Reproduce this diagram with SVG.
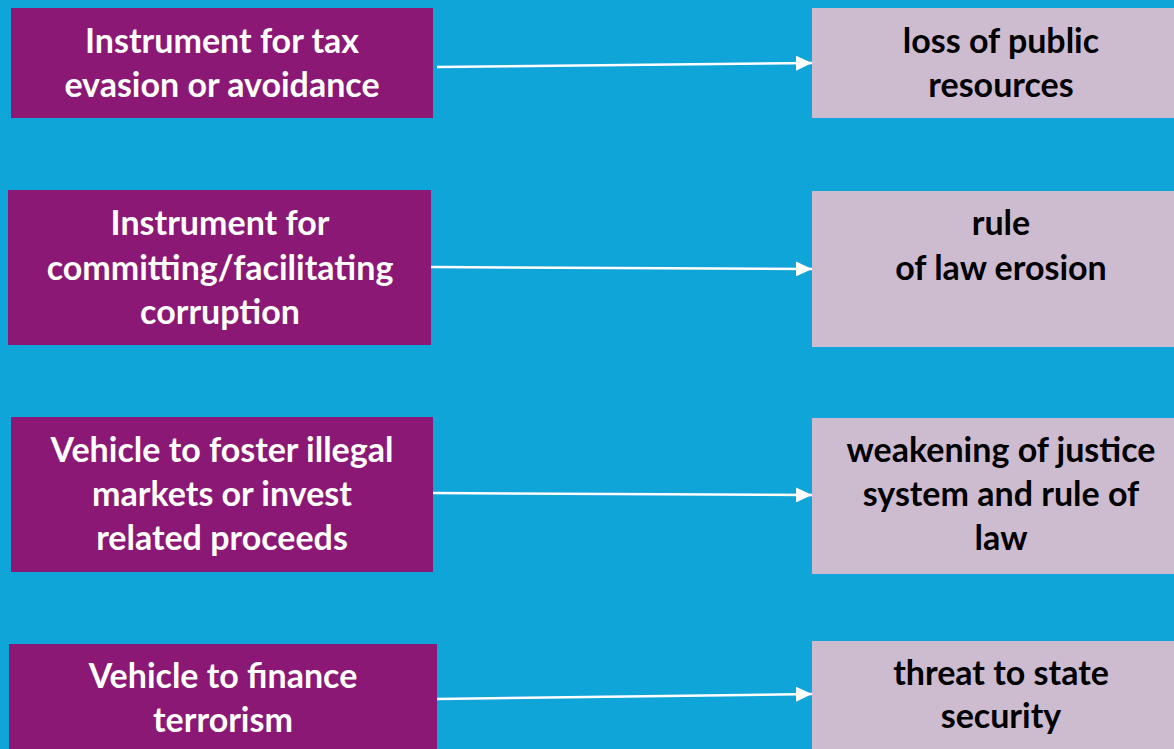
<svg xmlns="http://www.w3.org/2000/svg" width="1174" height="749" viewBox="0 0 1174 749">
<style>
.src{fill:#8B1874}
.dst{fill:#CDBBD0}
.t{font-family:Lato,"Open Sans","Liberation Sans",sans-serif;font-weight:bold;font-size:34px;text-anchor:middle}
.w{fill:#FFFFFF}
.k{fill:#000000}
.c{stroke:#FFFFFF;stroke-width:2.5;fill:none}
</style>
<defs>
<marker id="ah" markerWidth="16" markerHeight="15" refX="16" refY="7.5" orient="auto" markerUnits="userSpaceOnUse">
<path d="M0,0 L16,7.5 L0,15 Z" fill="#FFFFFF"/>
</marker>
</defs>
<rect x="0" y="0" width="1174" height="749" fill="#10A5D8"/>
<g id="n1"><rect class="src" x="11" y="8" width="422" height="110"/>
<text class="t w" x="222" y="53">Instrument for tax</text><text class="t w" x="222" y="97">evasion or avoidance</text></g>
<g id="n2"><rect class="src" x="8" y="190" width="423" height="155"/>
<text class="t w" x="220" y="235">Instrument for</text><text class="t w" x="220" y="280">committing/facilitating</text><text class="t w" x="220" y="324">corruption</text></g>
<g id="n3"><rect class="src" x="11" y="417" width="422" height="155"/>
<text class="t w" x="222" y="462">Vehicle to foster illegal</text><text class="t w" x="222" y="506">markets or invest</text><text class="t w" x="222" y="550">related proceeds</text></g>
<g id="n4"><rect class="src" x="9" y="644" width="428" height="105"/>
<text class="t w" x="223" y="688">Vehicle to finance</text><text class="t w" x="223" y="732">terrorism</text></g>
<g id="r1"><rect class="dst" x="812" y="8" width="362" height="110"/>
<text class="t k" x="1001" y="53">loss of public</text><text class="t k" x="1001" y="97">resources</text></g>
<g id="r2"><rect class="dst" x="812" y="191" width="362" height="156"/>
<text class="t k" x="1001" y="235">rule</text><text class="t k" x="1001" y="280">of law erosion</text></g>
<g id="r3"><rect class="dst" x="812" y="418" width="362" height="156"/>
<text class="t k" x="1001" y="462">weakening of justice</text><text class="t k" x="1001" y="506">system and rule of</text><text class="t k" x="1001" y="550">law</text></g>
<g id="r4"><rect class="dst" x="812" y="641" width="362" height="108"/>
<text class="t k" x="1001" y="685">threat to state</text><text class="t k" x="1001" y="728">security</text></g>
<g id="connectors">
<line class="c" x1="437" y1="67" x2="812" y2="63" marker-end="url(#ah)"/>
<line class="c" x1="431" y1="267" x2="812" y2="269" marker-end="url(#ah)"/>
<line class="c" x1="433" y1="493" x2="812" y2="495" marker-end="url(#ah)"/>
<line class="c" x1="437" y1="699" x2="812" y2="694" marker-end="url(#ah)"/>
</g>
</svg>
